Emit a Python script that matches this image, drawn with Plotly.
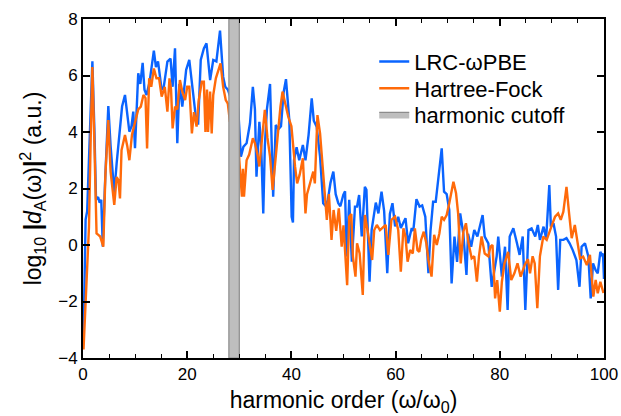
import plotly.graph_objects as go

lrc_x = [0.1, 0.5, 0.8, 1.2, 1.8, 2.2, 2.5, 2.9, 3.2, 3.5, 3.8, 4.2, 4.86, 5.3, 6.0, 6.46, 7.1, 7.5, 8.06, 8.5,
         8.9, 9.3, 9.65, 9.98, 10.6, 11.0, 11.45, 11.8, 12.2, 12.8, 13.6, 14.0, 14.4, 15.1, 15.5, 16.2, 16.8, 17.2, 17.66, 18.1,
         18.5, 19.06, 19.8, 20.4, 21.0, 21.8, 22.1, 22.6, 23.2, 23.7, 24.4, 25.0, 25.6, 26.3, 26.9, 27.3, 27.8, 28.5, 29.0, 29.4,
         29.8, 30.3, 30.8, 31.4, 32.05, 32.6, 33.0, 33.3, 33.85, 34.2, 34.6, 34.9, 35.3, 35.9, 36.5, 37.0, 37.5, 38.0, 38.5, 38.96,
         39.6, 40.05, 40.3, 40.5, 41.0, 41.5, 42.2, 42.7, 43.3, 43.9, 44.3, 44.85, 45.5, 46.1, 46.6, 47.0, 47.5, 48.05, 48.5, 49.0,
         49.4, 49.96, 50.3, 50.6, 51.1, 51.6, 52.2, 52.6, 53.0, 53.5, 54.1, 54.4, 55.0, 55.4, 56.2, 56.7, 57.3, 57.8, 58.4, 58.9,
         59.4, 59.9, 60.5, 61.0, 61.5, 61.9, 62.4, 63.1, 63.4, 64.0, 64.6, 65.1, 65.7, 66.3, 66.7, 67.2, 67.7, 68.2, 68.85, 69.3,
         69.8, 70.3, 70.75, 71.3, 71.8, 72.4, 73.0, 73.6, 73.9, 74.5, 75.1, 75.7, 76.7, 77.1, 77.8, 78.45, 78.9, 79.4, 79.7, 80.4,
         81.0, 81.5, 81.9, 82.6, 83.3, 83.8, 84.4, 84.9, 85.5, 86.1, 86.8, 87.3, 87.7, 88.4, 88.9, 89.5, 89.8, 90.3, 90.8, 91.2,
         91.6, 92.2, 92.8, 93.4, 94.0, 94.7, 95.3, 95.7, 96.35, 97.0, 97.45, 97.9, 98.4, 98.8, 99.3, 99.6, 99.8, 100.0]
lrc_y = [-3.4, 0.9, 1.2, 3.5, 6.5, 4.0, 1.6, 1.7, 1.5, 1.6, -0.06, 2.06, 4.92, 3.5, 1.84, 2.9, 4.07, 4.9, 5.31, 4.6,
         4.01, 4.2, 4.72, 3.43, 6.08, 5.7, 6.45, 5.5, 5.31, 5.8, 6.88, 6.3, 6.5, 5.49, 5.6, 6.49, 6.6, 5.6, 6.96, 3.6,
         5.7, 4.9, 6.2, 6.55, 5.6, 4.3, 4.3, 6.55, 6.96, 7.14, 5.84, 6.55, 6.5, 7.59, 5.96, 5.6, 5.5, 5.13, 5.2, 5.37,
         4.8, 3.13, 3.48, 3.6, 4.3, 5.6, 4.8, 2.42, 4.36, 3.5, 1.12, 3.5, 4.8, 5.7, 1.71, 4.25, 4.1, 4.2, 5.4, 5.87,
         4.42, 1.0, 0.8, 3.0, 3.46, 3.0, 3.54, 3.0, 3.9, 5.19, 4.4, 4.19, 3.13, 1.48, 1.37, 1.6, 2.2, 2.6, 1.8, 1.48,
         1.37, 1.77, 1.9, -0.41, 1.6, -0.59, 1.36, 1.36, 1.77, 0.3, 2.06, 1.95, -1.3, 0.53, 1.5, 1.12, 1.89, 1.2, -1.0, 1.1,
         1.48, 0.66, 1.0, 0.6, 0.8, 0.95, 0.06, 0.6, 0.5, 1.62, 1.36, 1.4, 1.0, -1.0, 0.5, 1.53, 1.53, 2.42, 3.42, 1.89,
         1.8, 1.24, -1.36, 0.3, -0.6, 1.12, 0.4, -1.06, 0.4, -0.06, 0.53, 0.3, 1.06, 0.3, 0.06, -1.48, -0.9, -0.4, 0.3, -1.12,
         -0.06, -2.3, 0.3, 0.59, 0.06, -0.35, 0.3, -2.3, 0.53, 0.59, 0.3, 0.71, 0.18, 0.65, 0.24, 2.12, 0.65, 0.77, 0.3, -1.59,
         0.18, 0.18, 0.24, 0.06, -0.18, -0.53, -1.48, -0.06, 0.06, -0.41, -1.89, -0.65, -0.89, -1.0, -0.24, -0.35, -0.3, -1.2]

hf_x = [0.1, 0.7, 1.15, 1.5, 1.8, 2.2, 2.6, 3.0, 3.3, 3.9, 4.3, 4.86, 5.3, 6.0, 6.46, 6.8, 7.1, 7.4, 8.06, 8.5,
        8.9, 9.4, 10.0, 10.6, 11.1, 11.6, 12.0, 12.3, 12.7, 13.1, 13.6, 14.1, 14.6, 15.1, 15.7, 16.2, 16.6, 16.9, 17.2, 17.66,
        18.1, 18.6, 19.1, 19.6, 20.0, 20.4, 20.9, 21.3, 21.8, 22.2, 22.8, 23.2, 23.5, 23.8, 24.0, 24.4, 24.7, 25.0, 25.5, 26.4,
        26.9, 27.4, 27.8, 28.2, 28.5, 28.9, 29.4, 30.0, 30.5, 30.7, 30.9, 31.4, 31.9, 32.6, 33.0, 33.5, 33.85, 34.3, 34.9, 35.4,
        35.9, 36.4, 36.8, 37.5, 37.9, 38.3, 38.8, 39.4, 40.0, 40.4, 40.7, 41.1, 41.6, 42.2, 42.4, 42.7, 43.0, 43.6, 44.2, 44.5,
        45.0, 45.5, 46.0, 46.4, 46.8, 47.2, 47.7, 48.1, 48.6, 49.1, 49.65, 50.0, 50.3, 50.7, 51.1, 51.5, 51.8, 52.3, 52.6, 53.1,
        53.7, 54.1, 54.6, 55.0, 55.5, 55.9, 56.4, 57.0, 57.7, 58.1, 58.6, 59.2, 59.9, 60.5, 61.0, 61.5, 61.9, 62.3, 62.8, 63.3,
        63.7, 64.2, 64.55, 64.9, 65.4, 65.9, 66.3, 66.9, 67.4, 67.9, 68.4, 68.85, 69.3, 69.8, 70.3, 71.1, 71.6, 72.0, 72.5, 73.0,
        73.5, 74.0, 74.6, 75.1, 75.6, 76.0, 76.5, 77.1, 77.8, 78.2, 78.6, 79.1, 79.5, 80.0, 80.4, 80.9, 81.6, 82.2, 82.8, 83.4,
        84.0, 84.8, 85.4, 85.8, 86.3, 86.7, 87.2, 87.7, 88.35, 89.0, 89.9, 90.6, 91.2, 91.7, 92.2, 92.8, 93.3, 93.8, 94.4, 94.9,
        95.4, 96.0, 96.7, 97.3, 97.95, 98.4, 98.8, 99.3, 99.9]
hf_y = [-3.7, -1.36, 0.65, 4.0, 6.3, 3.5, 0.41, 0.35, 0.3, -0.06, 2.5, 4.42, 2.6, 1.42, 2.4, 2.3, 1.65, 3.36, 3.89, 3.5,
        3.0, 3.9, 4.36, 4.8, 4.9, 5.31, 5.2, 3.42, 5.9, 5.6, 6.25, 5.9, 5.9, 5.25, 5.6, 4.72, 5.9, 5.5, 4.13, 4.9,
        4.8, 5.84, 5.4, 5.13, 5.6, 5.6, 3.95, 4.7, 4.19, 5.1, 5.78, 5.78, 4.0, 5.5, 4.0, 5.43, 3.95, 5.31, 5.9, 6.43,
        5.6, 5.13, 5.0, 4.36, 5.13, 4.25, 5.3, 3.0, 1.71, 2.7, 1.71, 3.0, 3.2, 3.78, 3.6, 3.19, 2.78, 3.6, 4.78, 3.8,
        3.13, 1.95, 2.78, 3.95, 4.9, 5.43, 5.0, 4.54, 4.2, 3.2, 2.78, 2.18, 2.5, 3.07, 2.1, 1.12, 1.8, 2.18, 2.6, 2.18,
        4.6, 3.95, 2.66, 1.95, 0.89, 1.8, 0.18, 1.24, 0.5, 1.3, -0.06, 0.7, -0.1, -1.42, 1.0, 1.1, -0.4, -1.12, 0.06, -0.3,
        -1.77, 1.06, 0.53, 0.06, -0.53, 0.53, 0.71, 0.53, 0.65, 0.71, -0.35, 0.89, 1.0, 0.53, -0.94, 0.59, 0.3, -0.59, -0.18, -0.3,
        0.59, -0.18, -0.24, 0.18, 0.47, 0.06, -0.53, -1.12, 0.36, 0.0, 0.41, 1.0, 0.89, 1.06, 1.48, 2.24, 1.83, 1.12, -0.65, 0.47,
        0.77, 0.06, -0.47, -0.4, -1.3, -0.4, 0.3, -0.3, -0.4, -0.06, 0.0, -1.89, -1.24, -2.36, -1.3, -0.65, -0.24, -1.24, -1.0, -0.65,
        -1.12, -0.7, -0.5, -1.0, -0.4, -0.65, -2.24, -0.4, 0.3, 0.18, 0.65, 1.0, 1.12, 0.89, 1.18, 2.06, 1.12, 0.24, 0.71, 0.18,
        -0.47, -0.41, -0.71, -0.35, -1.83, -1.24, -1.71, -1.3, -1.7]

cutoff_lo = 28.0
cutoff_hi = 30.0
y_min, y_max = -4, 8

FONT = "Liberation Sans, Arial, Helvetica, sans-serif"

fig = go.Figure()
fig.add_trace(go.Scatter(x=lrc_x, y=lrc_y, mode="lines", name="LRC-ωPBE", legend="legend",
                         line=dict(color="#0A64FF", width=2.4)))
fig.add_trace(go.Scatter(x=hf_x, y=hf_y, mode="lines", name="Hartree-Fock", legend="legend2",
                         line=dict(color="#FF6A0A", width=2.4)))
fig.add_trace(go.Scatter(x=[cutoff_lo, cutoff_hi, cutoff_hi, cutoff_lo, cutoff_lo],
                         y=[y_min, y_min, y_max, y_max, y_min], mode="lines", legend="legend3",
                         fill="toself", fillcolor="#BEBEBE", name="harmonic cutoff",
                         line=dict(color="#8C8C8C", width=1.2)))

axis_common = dict(showgrid=False, zeroline=False, showline=True, linecolor="black", linewidth=2,
                   mirror="ticks", ticks="inside", tickcolor="black", tickwidth=1.5, ticklen=7,
                   automargin=False,
                   tickfont=dict(family=FONT, size=17, color="black"))

leg_common = dict(x=0.559, xanchor="left", yanchor="middle", bgcolor="rgba(0,0,0,0)",
                  font=dict(family=FONT, size=22, color="black"), itemwidth=30)

fig.update_layout(
    width=621, height=416,
    margin=dict(l=83, r=17, t=19, b=58),
    plot_bgcolor="white", paper_bgcolor="white",
    showlegend=True,
    legend=dict(y=0.874, **leg_common),
    legend2=dict(y=0.795, **leg_common),
    legend3=dict(y=0.718, **leg_common),
    xaxis=dict(range=[0, 100], tickvals=[0, 20, 40, 60, 80, 100],
               minor=dict(dtick=5, tick0=0, ticks="inside", ticklen=4, tickcolor="black", tickwidth=1.2),
               title=dict(text="harmonic order (ω/ω<sub>0</sub>)", standoff=11,
                          font=dict(family=FONT, size=23, color="black")),
               **axis_common),
    yaxis=dict(range=[y_min, y_max], tickvals=[-4, -2, 0, 2, 4, 6, 8],
               ticktext=["−4", "−2", "0", "2", "4", "6", "8"],
               title=dict(text="log<sub>10</sub> <b>|</b><i>d</i><sub>A</sub>(ω)<b>|</b><sup>2</sup> (a.u.)", standoff=10,
                          font=dict(family=FONT, size=23, color="black")),
               **axis_common),
)

fig.write_html("out.html", config={"displayModeBar": False},
               post_script="document.body.style.margin='0';document.body.style.padding='0';")
